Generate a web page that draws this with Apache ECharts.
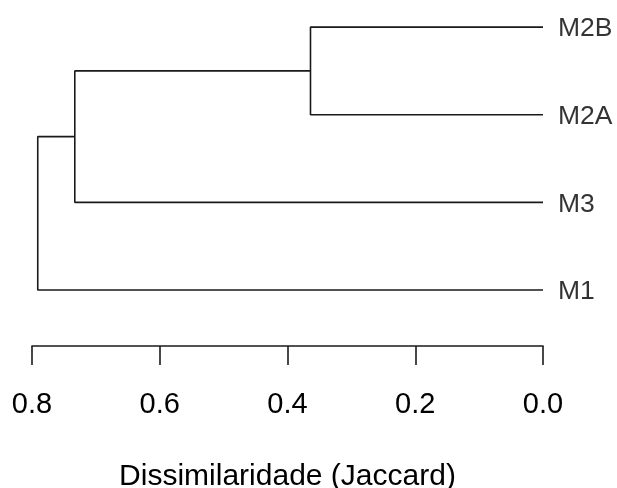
<!DOCTYPE html>
<html>
<head>
<meta charset="utf-8">
<script src="https://cdn.jsdelivr.net/npm/echarts@6/dist/echarts.min.js"></script>
<style>html,body{margin:0;padding:0;background:#fff}#c{width:617px;height:488px}</style>
</head>
<body>
<div id="c"></div>
<script>
// Leaves, bottom to top (position 1..4)
var leafLabels = ['M1', 'M3', 'M2A', 'M2B'];
// Merges: [left child, right child, height]; children are leaf names or merge indices "#k"
var mergeLeft = ['M2A', 'M3', 'M1'];
var mergeRight = ['M2B', '#0', '#1'];
var mergeHeights = [0.364, 0.733, 0.791];
var xTicks = [0, 0.2, 0.4, 0.6, 0.8];
var axisTitle = 'Dissimilaridade (Jaccard)';

var FONT = 'Liberation Sans, Arial, sans-serif';
var LINE = '#1a1a1a';

function nodeInfo(name, nodes) {
  if (name.charAt(0) === '#') return nodes[parseInt(name.slice(1), 10)];
  return { h: 0, y: leafLabels.indexOf(name) + 1 };
}
var nodes = [];
var series = [];
for (var i = 0; i < mergeHeights.length; i++) {
  var a = nodeInfo(mergeLeft[i], nodes);
  var b = nodeInfo(mergeRight[i], nodes);
  var h = mergeHeights[i];
  nodes.push({ h: h, y: (a.y + b.y) / 2 });
  series.push({
    type: 'line',
    data: [[a.h, a.y], [h, a.y], [h, b.y], [b.h, b.y]],
    symbol: 'none',
    lineStyle: { color: LINE, width: 1.6 },
    silent: true
  });
}
series.push({
  type: 'scatter',
  symbolSize: 0,
  data: leafLabels.map(function (l, k) { return [0, k + 1, l]; }),
  label: {
    show: true, position: 'right', distance: 15, offset: [0, 2],
    formatter: function (p) { return p.data[2]; },
    fontSize: 26.5, color: '#000', fontFamily: FONT
  },
  silent: true
});

var chart = echarts.init(document.getElementById('c'), null, { renderer: 'canvas' });
chart.setOption({
  animation: false,
  backgroundColor: '#fff',
  grid: { left: 32, right: 74, top: 9.6, bottom: 142, containLabel: false, outerBoundsMode: 'none' },
  xAxis: {
    type: 'value', inverse: true, min: 0, max: 0.8, interval: 0.2,
    axisLine: { show: true, lineStyle: { color: LINE, width: 1.6 } },
    axisTick: { show: true, length: 19, lineStyle: { color: LINE, width: 1.6 } },
    axisLabel: {
      margin: 44, fontSize: 29, color: '#000', fontFamily: FONT,
      formatter: function (v) { return v.toFixed(1); }
    },
    splitLine: { show: false },
    name: axisTitle, nameLocation: 'middle', nameGap: 116,
    nameTextStyle: { fontSize: 30, color: '#000', fontFamily: FONT }
  },
  yAxis: { type: 'value', min: 0.36, max: 4.2, show: false },
  series: series
});
</script>
</body>
</html>
